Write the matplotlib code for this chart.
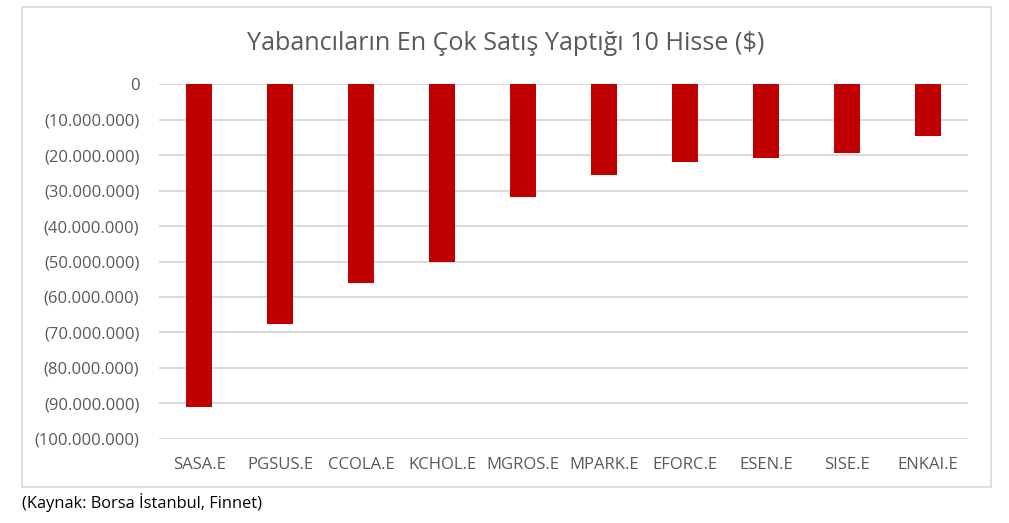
import matplotlib; matplotlib.use("Agg")
import matplotlib.pyplot as plt
from matplotlib.ticker import FuncFormatter
from matplotlib.patches import Rectangle

plt.rcParams["font.family"] = ["Open Sans", "DejaVu Sans"]

title = "Yabancıların En Çok Satış Yaptığı 10 Hisse ($)"
source = "(Kaynak: Borsa İstanbul, Finnet)"
stocks = ["SASA.E", "PGSUS.E", "CCOLA.E", "KCHOL.E", "MGROS.E",
          "MPARK.E", "EFORC.E", "ESEN.E", "SISE.E", "ENKAI.E"]
net_sales = [-91.0e6, -67.6e6, -56.2e6, -50.1e6, -31.7e6,
             -25.6e6, -22.0e6, -20.9e6, -19.3e6, -14.5e6]
yticks = list(range(0, -110_000_000, -10_000_000))

TXT = "#595959"
W, H = 1009, 523
fig = plt.figure(figsize=(W/100, H/100), dpi=100)
# chart frame
fig.patches.append(Rectangle((21.7/W, 1-486.7/H), (991-21.7)/W, (486.7-7)/H,
                             transform=fig.transFigure, fill=False, ec="#D9D9D9", lw=1.2))
ax = fig.add_axes([158.7/W, 1-438.7/H, 809.6/W, 354.4/H])
ax.bar(range(len(stocks)), net_sales, width=0.32, color="#C00000", zorder=3)
ax.set_ylim(-100_000_000, 0)
ax.set_xlim(-0.5, len(stocks)-0.5)
ax.set_yticks(yticks)
ax.yaxis.set_major_formatter(FuncFormatter(
    lambda v, p: "0" if v == 0 else "(" + f"{abs(v):,.0f}".replace(",", ".") + ")"))
ax.set_xticks(range(len(stocks)))
ax.set_xticklabels(stocks)
ax.grid(axis="y", color="#D9D9D9", lw=1.4, zorder=0)
for s in ax.spines.values(): s.set_visible(False)
ax.tick_params(axis="both", length=0, colors=TXT)
ax.tick_params(axis="y", pad=14, labelsize=12)
ax.tick_params(axis="x", pad=13, labelsize=12)
fig.text(506/W, 1-43/H, title, ha="center", va="center", fontsize=18.1, color=TXT)
fig.text(22/W, 1-502/H, source, ha="left", va="center", fontsize=11.8, color="black")
fig.savefig("out.png", dpi=100)
